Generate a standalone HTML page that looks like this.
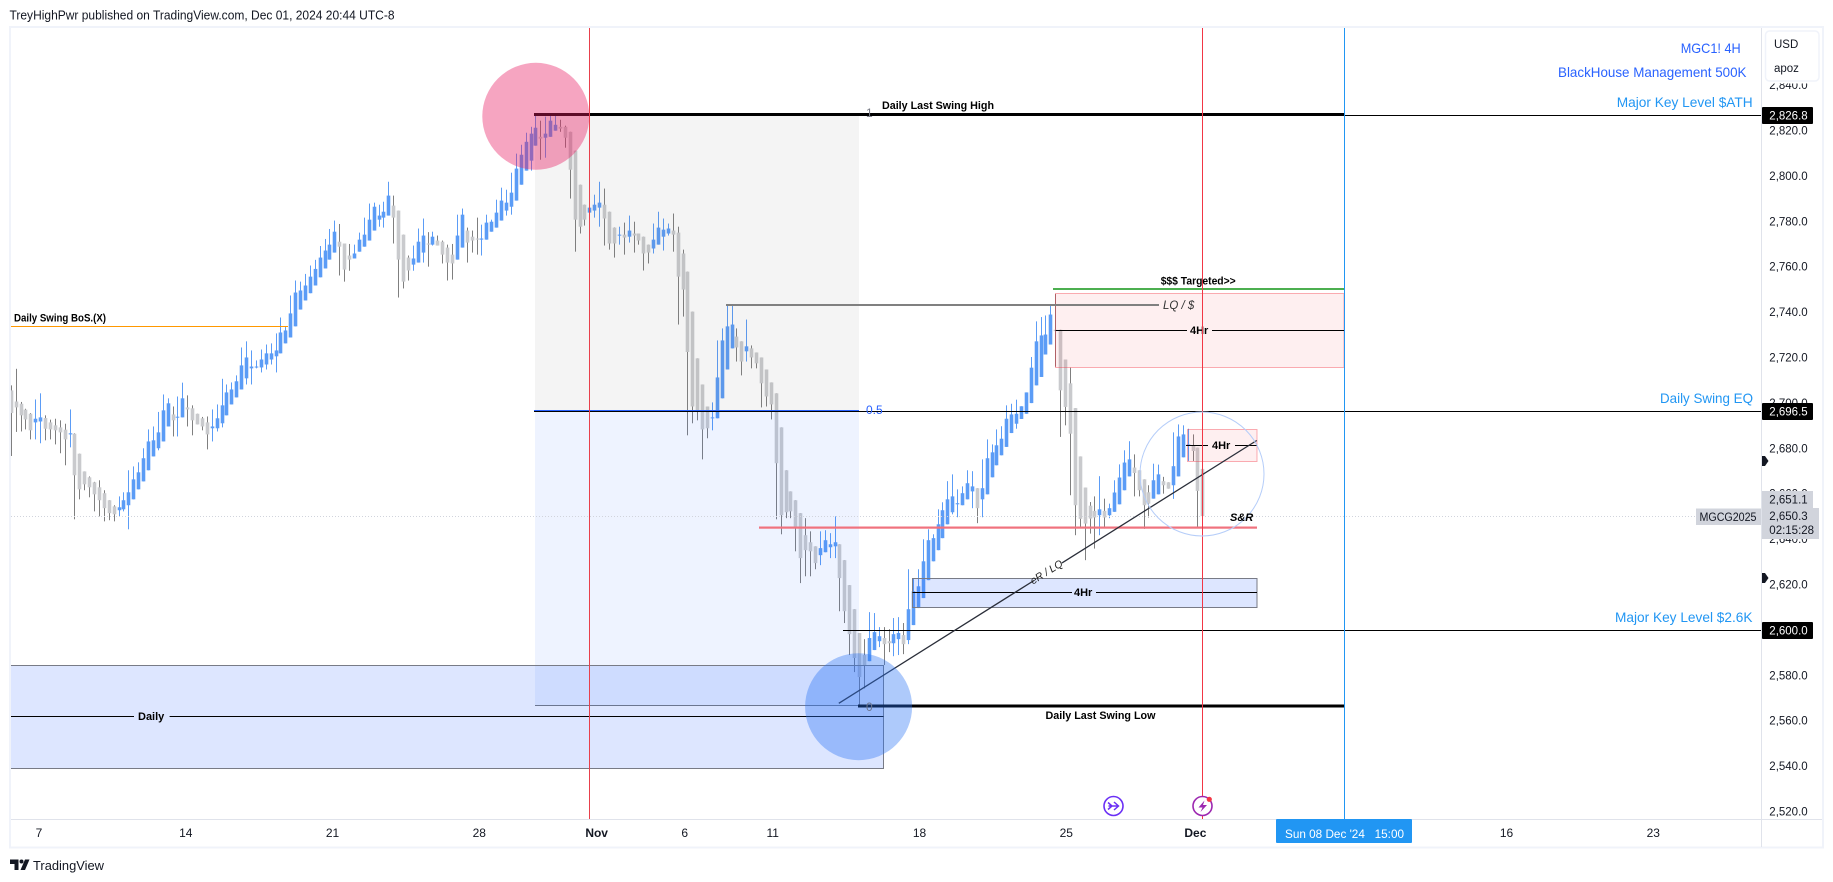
<!DOCTYPE html>
<html lang="en">
<head>
<meta charset="utf-8">
<title>MGC1! 4H chart</title>
<style>
html,body{margin:0;padding:0;background:#fff;width:1833px;height:882px;overflow:hidden}
svg{display:block;font-family:"Liberation Sans",sans-serif}
.b{font-weight:bold;fill:#000;font-size:11px}
.lvl{fill:#2196f3;font-size:14px}
.pl{fill:#131722;font-size:11.5px}
.wl{fill:#fff;font-size:11.5px}
</style>
</head>
<body>
<svg id="chart" xmlns="http://www.w3.org/2000/svg" width="1833" height="882" viewBox="0 0 1833 882">
  <text x="9.5" y="19.5" font-size="12.5" fill="#131722" textLength="385" lengthAdjust="spacingAndGlyphs">TreyHighPwr published on TradingView.com, Dec 01, 2024 20:44 UTC-8</text>

  <g id="candles"></g>

  <!-- zones -->
  <rect x="535" y="115" width="324" height="295" fill="rgba(120,120,120,.08)"/>
  <rect x="535" y="411" width="324" height="295" fill="rgba(41,98,255,.08)"/>
  <rect x="11" y="665.5" width="873" height="103" fill="rgba(41,98,255,.16)"/>
  <path d="M11 665.5H883.5V768.5H11" fill="none" stroke="#787b86" stroke-width="1"/>
  <path d="M11 716.5H134M169.6 716.5H883.5" stroke="#000" stroke-width="1"/>
  <text class="b" x="138" y="720">Daily</text>

  <rect x="1055.5" y="293.5" width="288.5" height="74" fill="rgba(242,54,69,.08)" stroke="rgba(242,54,69,.4)"/>
  <path d="M1055.5 330.5H1187M1212 330.5H1344" stroke="#000"/>
  <text class="b" x="1190" y="334">4Hr</text>

  <rect x="1187.5" y="429.5" width="69.5" height="32" fill="rgba(242,54,69,.08)" stroke="rgba(242,54,69,.4)"/>
  <path d="M1186 445.5H1208M1235 445.5H1257" stroke="#000"/>
  <text class="b" x="1212" y="449">4Hr</text>

  <rect x="912.5" y="578.5" width="344.5" height="29" fill="rgba(41,98,255,.16)" stroke="#787b86"/>
  <path d="M912.5 592.5H1072M1096 592.5H1257" stroke="#000"/>
  <text class="b" x="1074" y="596">4Hr</text>

  <!-- levels -->
  <rect x="534" y="113" width="810" height="3" fill="#000"/>
  <rect x="1344" y="115" width="417" height="1" fill="#000"/>
  <rect x="534" y="411" width="1227" height="1" fill="#000"/>
  <rect x="534" y="410" width="325" height="1" fill="#2962ff"/>
  <rect x="843" y="630" width="918" height="1" fill="#000"/>
  <rect x="858" y="704.5" width="486" height="3" fill="#000"/>
  <rect x="535" y="705" width="323" height="1" fill="#6b7690"/>
  <rect x="11" y="326" width="277" height="1" fill="#ff9800"/>
  <rect x="1053" y="288" width="291" height="2" fill="#4caf50"/>
  <rect x="726" y="304" width="433" height="2" fill="#808080"/>
  <rect x="759" y="526.5" width="498" height="2.2" fill="#f0727e"/>
  <path d="M11 516.5H1696" stroke="#d1d4dc" stroke-dasharray="1 2"/>
  <path d="M838.8 703.3L1034 580.5M1062 562.9L1256.7 440.5" stroke="#2a2e39" stroke-width="1.3" fill="none"/>

  <!-- verticals -->
  <rect x="589" y="28" width="1" height="791" fill="#e8404c"/>
  <rect x="1202" y="28" width="1" height="791" fill="#f23645"/>
  <rect x="1344" y="28" width="1" height="791" fill="#2196f3"/>

  <!-- circles -->
  <circle cx="535.8" cy="116.3" r="53.5" fill="rgba(233,30,99,.4)"/>
  <circle cx="858.6" cy="706.7" r="53.5" fill="rgba(41,115,245,.38)"/>
  <circle cx="1202" cy="474" r="62" fill="none" stroke="#b5cdf9" stroke-width="1"/>

  <!-- drawing labels -->
  <text class="b" x="882" y="109" textLength="112" lengthAdjust="spacingAndGlyphs">Daily Last Swing High</text>
  <text class="b" x="1045.5" y="719" textLength="110" lengthAdjust="spacingAndGlyphs">Daily Last Swing Low</text>
  <text class="b" x="14" y="321.5" font-size="10.5" textLength="92" lengthAdjust="spacingAndGlyphs">Daily Swing BoS.(X)</text>
  <text class="b" x="1160.7" y="284.5" textLength="75" lengthAdjust="spacingAndGlyphs">$$$ Targeted&gt;&gt;</text>
  <text x="1163" y="309" font-size="11.5" font-style="italic" fill="#333">LQ / $</text>
  <text x="1230" y="521" font-size="11" font-weight="bold" font-style="italic" fill="#000">S&amp;R</text>
  <text font-size="10.5" font-style="italic" fill="#222" text-anchor="middle" transform="translate(1048.3 575) rotate(-32)">eR / LQ</text>
  <text x="866" y="117" font-size="12" fill="#787b86">1</text>
  <text x="866" y="414" font-size="12" fill="#2962ff">0.5</text>
  <text x="866" y="711" font-size="12" fill="#6b7690">0</text>

  <text x="1680.7" y="53" font-size="14" fill="#2962ff" textLength="60" lengthAdjust="spacingAndGlyphs">MGC1! 4H</text>
  <text x="1558" y="77" font-size="14" fill="#2962ff" textLength="188.5" lengthAdjust="spacingAndGlyphs">BlackHouse Management 500K</text>
  <text class="lvl" x="1616.7" y="107" textLength="136" lengthAdjust="spacingAndGlyphs">Major Key Level $ATH</text>
  <text class="lvl" x="1660" y="403" textLength="93" lengthAdjust="spacingAndGlyphs">Daily Swing EQ</text>
  <text class="lvl" x="1615" y="622" textLength="137.5" lengthAdjust="spacingAndGlyphs">Major Key Level $2.6K</text>

  <!-- event icons -->
  <g>
    <circle cx="1113.5" cy="806" r="9.5" fill="#fff" stroke="#6a2ff5" stroke-width="1.6"/>
    <path d="M1108 802.5l4 3.5-4 3.5M1108.5 806H1118M1114 802l4.500 4-4.500 4" fill="none" stroke="#6a2ff5" stroke-width="1.5"/>
  </g>
  <g>
    <circle cx="1202.5" cy="806" r="9.5" fill="#fff" stroke="#9c27b0" stroke-width="1.6"/>
    <path d="M1204.500 800.500L1198.500 807.500H1202.500L1200.500 812L1207 805H1203Z" fill="#9c27b0"/>
    <circle cx="1209.300" cy="799.300" r="2.600" fill="#f23645"/>
  </g>

  <!-- axes and frame -->
  <rect x="10" y="27" width="1813" height="820.500" fill="none" stroke="#f0f3fa" stroke-width="2"/>
  <rect x="1761" y="28" width="1" height="819" fill="#e0e3eb"/>
  <rect x="11" y="819" width="1811" height="1" fill="#e0e3eb"/>
  <g id="price-ticks"></g>
  <g id="time-ticks"></g>

  <!-- price badges -->
  <g><rect x="1762" y="107" width="51" height="17" rx="1" fill="#000"/><text class="wl" x="1769.300" y="119.500">2,826.8</text></g>
  <g><rect x="1762" y="403" width="51" height="17" rx="1" fill="#000"/><text class="wl" x="1769.300" y="415.500">2,696.5</text></g>
  <g><rect x="1762" y="622" width="51" height="17" rx="1" fill="#000"/><text class="wl" x="1769.300" y="634.500">2,600.0</text></g>
  <g><rect x="1762" y="491" width="51" height="17" fill="#d1d4dc"/><text class="pl" x="1769.300" y="503.500">2,651.1</text></g>
  <g><rect x="1762" y="508" width="57" height="31" fill="#d1d4dc"/><text class="pl" x="1769.300" y="520">2,650.3</text><text class="pl" x="1769.300" y="534" fill="#434651">02:15:28</text></g>
  <g><rect x="1696" y="508.500" width="65" height="16.500" fill="#d1d4dc"/><text class="pl" x="1699.500" y="521" textLength="57" lengthAdjust="spacingAndGlyphs">MGCG2025</text></g>
  <path d="M1762 456H1765L1768.500 461L1765 466H1762Z" fill="#131722"/>
  <path d="M1762 573H1765L1768.500 578L1765 583H1762Z" fill="#131722"/>

  <g>
    <rect x="1763" y="29" width="58" height="54.500" fill="#fff"/>
    <rect x="1765.500" y="31" width="53.500" height="50" rx="4" fill="#fff" stroke="#f0f3fa" stroke-width="1.500"/>
    <text class="pl" x="1774" y="48" font-size="12">USD</text>
    <text class="pl" x="1774" y="72" font-size="12">apoz</text>
  </g>

  <g>
    <rect x="1276" y="819" width="136" height="24" rx="1" fill="#2196f3"/>
    <text x="1285" y="838" font-size="12" fill="#fff" xml:space="preserve" textLength="119" lengthAdjust="spacingAndGlyphs">Sun 08 Dec '24   15:00</text>
  </g>

  <g>
    <path d="M10 859.500H18.500V870H14.500V864H10Z" fill="#131722"/>
    <circle cx="21.500" cy="861.500" r="2" fill="#131722"/>
    <path d="M25 859.500H29.500L25 870H20.500Z" fill="#131722"/>
    <text x="33" y="870" font-size="13" fill="#131722" textLength="71" lengthAdjust="spacingAndGlyphs">TradingView</text>
  </g>
</svg>

<script>
const opens = [2705.3,2700.4,2699.4,2696.8,2695,2691.2,2691.6,2693.1,2691.2,2689.9,
2689,2688,2685.9,2686.2,2677.4,2669.6,2667,2664.8,2662.6,2660,
2656.9,2654.2,2652.5,2652.9,2654.7,2657.3,2661.7,2665.2,2670.1,2676.2,
2679.8,2682.8,2689.4,2694.7,2693.4,2693.4,2697.8,2697.4,2695,2693,
2691.2,2688.6,2688.6,2690.8,2694.3,2699.1,2702.2,2705.7,2710.6,2715,
2715.4,2715.4,2716.7,2718.9,2720.3,2721.6,2726,2728.6,2733.5,2740.9,
2744.9,2748.1,2751.5,2755.1,2759,2762.9,2766,2770.8,2770,2764.7,
2763.4,2766.4,2768.6,2771.3,2775.7,2780.5,2781.4,2782.3,2786.7,2784.5,
2773.9,2763.8,2760.7,2761.6,2766,2770,2769.5,2771.3,2770.8,2768.2,
2765.1,2762.9,2768.2,2775.7,2773,2772.2,2771.7,2771.7,2775.2,2777,
2780.1,2784.5,2786.2,2788.9,2795.9,2802.1,2806.5,2813.1,2817,2816.6,
2817,2819.7,2821.4,2821.4,2819.2,2810.9,2795.9,2787.1,2783.6,2784.5,
2785.8,2787.1,2784,2777,2773.5,2773.9,2773,2774.4,2774.4,2773,
2769.5,2767.8,2769.5,2773,2774.4,2775.7,2774.8,2765.6,2757.6,2740,
2719.4,2707.9,2698.2,2693,2693,2701.8,2714.5,2723.8,2729,2726.9,
2722.5,2723.8,2722,2719.8,2714.5,2708.8,2704,2689,2670.1,2660.8,
2656.9,2651.2,2641.5,2638.4,2636.6,2632.7,2634,2636.2,2636.6,2637.5,
2630.5,2619.5,2608.9,2598.4,2588.7,2586,2590.9,2594.8,2596.2,2594.8,
2593.9,2595.7,2597.5,2595.3,2601.9,2609.4,2613.8,2621.7,2630,2634.9,
2640.2,2646.3,2651.6,2655.1,2654.7,2657.3,2660.8,2662.2,2657.3,2659.5,
2667,2672.3,2676.7,2680.4,2686.5,2690.6,2692.7,2695,2699.7,2707.5,
2711.2,2721.1,2725.5,2732,2732,2718.9,2708.4,2697.5,2676.2,2662.5,
2654.5,2652.2,2650.3,2652.2,2650.3,2651.8,2655.1,2661.3,2667.4,2671.3,
2670.1,2666.1,2660.4,2657.6,2659.5,2665.3,2664.8,2663.5,2667.4,2675.8,
2680.9,2680.9,2680.1,2670.7];
const closes = [2695.3,2697.8,2694.3,2692.5,2687.7,2692.8,2693.4,2688.4,2688.1,2687.7,
2686.8,2683.7,2686.4,2667.9,2661.7,2663.9,2662.6,2659.5,2656.9,2653.4,
2651.2,2650.7,2653.8,2656.9,2660.4,2666.1,2669.2,2675.4,2682.8,2683.3,
2686.8,2696.5,2699.6,2692.1,2693.7,2701.8,2696.9,2692.1,2690.3,2689.4,
2685.9,2689.4,2693,2698.7,2704.4,2705.7,2709.3,2716.3,2719.8,2715.8,
2715.8,2718.9,2721.6,2721.6,2722.9,2730.8,2731.7,2739.2,2748.4,2749.3,
2751.5,2755.4,2758.8,2763.8,2766.9,2769.5,2775.2,2768.6,2758.5,2762.9,
2765.6,2771.7,2773.9,2780.5,2786.2,2782.3,2784,2791.1,2781.4,2762.9,
2753.2,2758.1,2763.4,2770.8,2773.5,2769.5,2773,2769.1,2765.1,2761.6,
2761.2,2773.5,2782.7,2770.4,2771.3,2771.7,2772.2,2779.2,2779.6,2783.6,
2788.9,2788,2792.4,2803,2809.1,2814.8,2818.4,2821,2816.2,2818.4,
2824.1,2822.3,2820.6,2816.6,2802.5,2780.5,2777.4,2780.5,2785.8,2787.1,
2788,2781,2770,2770,2773.9,2772.6,2775.7,2773.5,2771.3,2765.6,
2766,2771.7,2777,2776.1,2776.6,2773.9,2755.4,2749.7,2722.2,2698.2,
2696.5,2688.1,2688.6,2693.4,2711,2727.3,2733.5,2734.3,2724.2,2718,
2724.7,2719.8,2717.2,2708.4,2702.6,2699.1,2673.2,2650.3,2651.6,2652,
2644.6,2631.4,2634.9,2634.4,2629.2,2635.8,2639.3,2637.5,2638.4,2622.6,
2608,2597.9,2587.4,2579,2584.3,2596.2,2598.8,2597,2593.5,2593.9,
2597.9,2598.4,2593.5,2608.9,2616.8,2619,2630,2639.3,2640.2,2646.3,
2652.5,2657.3,2658.6,2655.6,2660,2664.4,2663,2653.4,2662.2,2675.4,
2678,2681.1,2684,2692.8,2694.7,2695,2698.3,2704.4,2715.3,2726.9,
2729.5,2729.9,2738.7,2731.4,2705.3,2698,2686.2,2654.7,2648.7,2646.6,
2648.8,2649.3,2652.9,2649.3,2653.4,2660.3,2666.9,2673.5,2674.9,2668.9,
2661.3,2654.7,2655.4,2665.7,2668.3,2663.5,2662,2671.9,2685,2685.9,
2681.5,2678.6,2661,2649.9];
const highs = [2707.5,2714.8,2700.2,2697.2,2695.3,2701.3,2704,2694.3,2692.4,2692.8,
2692.1,2690.6,2696.9,2686.4,2677.4,2669.6,2667.4,2665,2665.7,2661.3,
2656.9,2654.7,2658.6,2660.4,2670.1,2671.8,2673.6,2679.8,2688.1,2689.4,
2695.8,2703.5,2701.8,2698.2,2702.6,2708.7,2703.1,2698.7,2695,2693.6,
2693.8,2696.9,2699.1,2710.4,2707.9,2708.8,2711.9,2724.2,2726.9,2722.9,
2718.5,2723.3,2725.5,2726,2730.4,2737.4,2733.2,2747.1,2753.7,2753.2,
2756.6,2760.3,2762.8,2768.9,2772,2776.4,2780.1,2778.6,2770,2769.8,
2769.5,2774.8,2781.4,2787.6,2788,2787.1,2788.4,2797.2,2791.1,2784.5,
2773.9,2764.7,2769.1,2776.6,2781,2775,2775.2,2773.5,2771.3,2769.5,
2769.8,2782.7,2785.4,2777,2775.7,2781.4,2778.3,2782.7,2780.5,2789.3,
2794.6,2793.7,2801.2,2809.6,2813.5,2818.8,2821.4,2826.3,2824.1,2825.9,
2826.3,2826.3,2824.5,2821.9,2819.2,2810.9,2795.9,2787.1,2790.4,2791.5,
2797.2,2794.2,2784,2777.1,2777.4,2779.2,2782.3,2779.6,2774.4,2773,
2769.5,2778.8,2784,2781,2778.8,2783.2,2777.4,2767.3,2757.6,2740,
2719.4,2707.9,2698.2,2700,2727.3,2732.6,2742.7,2742.7,2732.6,2726.9,
2736.5,2725.1,2722,2719.8,2714.5,2708.8,2704,2689,2670.1,2660.8,
2656.9,2651.2,2649,2643.2,2636.6,2643.2,2643.7,2642.4,2649.8,2637.5,
2630.5,2619.5,2608.9,2598.4,2595.7,2607.6,2607.2,2601,2601,2600.1,
2605,2605.4,2602.8,2626.5,2622.6,2626.5,2639.7,2644.1,2641.9,2652.9,
2656,2665.3,2668.3,2661.7,2663,2670.1,2669.7,2662.2,2674.9,2683.7,
2681.5,2688.1,2689.5,2698.7,2699.4,2701.2,2698.3,2704.4,2720,2735.7,
2737.6,2738.3,2743.1,2747.8,2732,2718.9,2715.3,2697.5,2676.2,2662.5,
2656.1,2658.6,2667.5,2657.6,2655.4,2665.7,2672.7,2678.9,2682.9,2677.1,
2670.1,2666.1,2663.5,2673,2672.6,2667.2,2664.8,2686.8,2690.3,2689.9,
2688.4,2685.9,2680.1,2670.7];
const lows = [2676.4,2687,2687.2,2688.1,2683.7,2683.7,2682,2683.3,2683.7,2681.5,
2677.6,2672.3,2680.2,2648.5,2657.3,2661.3,2658.2,2652,2649.8,2647.6,
2648.1,2647.6,2649.8,2652,2644.1,2657.3,2661.7,2665.2,2670.1,2676.2,
2678.9,2682.8,2689.4,2685,2685,2693.4,2689.4,2685.5,2690.3,2687.7,
2679.3,2682.8,2687.2,2689,2694.3,2699.1,2702.2,2705.7,2707.9,2707.9,
2715,2713.2,2714.5,2716.7,2713.2,2721.6,2726,2728.6,2733.5,2740.9,
2744.9,2748.1,2751.5,2755.1,2759,2762.9,2766,2755.9,2753.2,2758,
2763.4,2766.4,2768.6,2771.3,2775.7,2777.4,2777,2782.3,2770,2746.2,
2750.2,2753.7,2758,2761.6,2761.6,2759.8,2769.1,2769.1,2761.2,2753.7,
2754.1,2762.9,2768.2,2761.6,2766,2765.1,2764.7,2771.7,2775.2,2777,
2780.1,2782.3,2782.7,2788.9,2795.9,2802.1,2802.1,2813.1,2806.9,2807.8,
2817,2819.7,2819.2,2812.2,2789.8,2766.4,2774.4,2777.9,2780.1,2781.4,
2777.4,2769.1,2767.3,2763.8,2769.5,2765.1,2770.4,2766,2769.5,2758.1,
2761.2,2765.6,2769.5,2766.9,2773.5,2766.4,2734.3,2737.8,2685.5,2690.8,
2692.1,2674.9,2684.2,2687.7,2693,2701.8,2714.5,2723.8,2718,2711.9,
2718,2715,2715,2697.8,2698.2,2692.5,2648.5,2641.9,2649,2649,
2634.4,2620.4,2623.4,2623.4,2626.5,2628.3,2634,2631.4,2631.4,2608,
2602.8,2588.7,2581.2,2566.8,2574,2586,2590.9,2592.2,2584.3,2590,
2588.2,2588.7,2589.1,2593.5,2601.9,2609.4,2613.8,2621.7,2630,2634.9,
2640.2,2646.3,2650.7,2649.4,2654.7,2657.3,2653.4,2646.8,2649.4,2659.5,
2667,2672.3,2676.7,2680.4,2686.5,2688.4,2692.7,2695,2699.7,2707.5,
2711.2,2721.1,2725.5,2715.7,2684.8,2689.9,2659.1,2641.5,2644.7,2630.5,
2642.2,2635.6,2641.5,2644.9,2649,2651.8,2655.1,2661.3,2667.4,2658.6,
2658.6,2644.3,2649.3,2657.6,2659.5,2659.8,2662,2657.5,2667.4,2675.8,
2674.2,2674.2,2645.2,2645.2];
const priceTicks = [2840,2820,2800,2780,2760,2740,2720,2700,2680,2660,2640,2620,2600,2580,2560,2540,2520];
const timeLabels = ['7','14','21','28','Nov','6','11','18','25','Dec','16','23'];
const timeSessions = [0,5,10,15,19,22,25,30,35,39.4,50,55];

const NS = 'http://www.w3.org/2000/svg';
function xBar(i){ return 10.7 + 4.904 * i; }
function yPrice(p){ return 629.4 - 2.27 * (p - 2600); }
function xSession(d){ return 39 + 29.35 * d; }
function fmt(p){ return p.toLocaleString('en-US',{minimumFractionDigits:1,maximumFractionDigits:1}); }

const candleLayer = document.getElementById('candles');
for (let i = 0; i < opens.length; i++) {
  const up = closes[i] >= opens[i];
  const cx = Math.round(xBar(i));
  const top = yPrice(Math.max(opens[i], closes[i]));
  const bottom = yPrice(Math.min(opens[i], closes[i]));
  const g = document.createElementNS(NS, 'g');
  
  
  const wick = document.createElementNS(NS, 'rect');
  
  
  wick.setAttribute('x', cx);
  wick.setAttribute('y', yPrice(highs[i]));
  wick.setAttribute('width', 1);
  wick.setAttribute('height', Math.max(1, yPrice(lows[i]) - yPrice(highs[i])));
  wick.setAttribute('fill', up ? '#5b9cf6' : '#7f7f7f');
  g.appendChild(wick);
  const body = document.createElementNS(NS, 'rect');
  
  
  body.setAttribute('x', cx - 1.3);
  body.setAttribute('y', top);
  body.setAttribute('width', 3.6);
  body.setAttribute('height', Math.max(1, bottom - top));
  body.setAttribute('fill', up ? '#5b9cf6' : '#c9cacd');
  g.appendChild(body);
  candleLayer.appendChild(g);
}

const priceLayer = document.getElementById('price-ticks');
priceTicks.forEach(function (p) {
  const t = document.createElementNS(NS, 'text');
  
  
  t.setAttribute('class', 'pl');
  t.setAttribute('x', 1769.3);
  t.setAttribute('y', yPrice(p) + 4.5);
  t.textContent = fmt(p);
  priceLayer.appendChild(t);
});

const timeLayer = document.getElementById('time-ticks');
timeLabels.forEach(function (label, i) {
  const t = document.createElementNS(NS, 'text');
  
  
  t.setAttribute('x', xSession(timeSessions[i]));
  t.setAttribute('y', 837);
  t.setAttribute('text-anchor', 'middle');
  t.setAttribute('font-size', '12');
  t.setAttribute('fill', '#131722');
  if (isNaN(Number(label))) t.setAttribute('font-weight', 'bold');
  t.textContent = label;
  timeLayer.appendChild(t);
});
</script>
</body>
</html>
